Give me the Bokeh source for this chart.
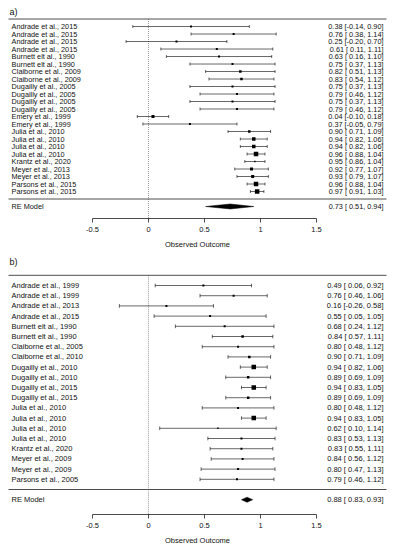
from bokeh.plotting import figure
from bokeh.layouts import column
from bokeh.models import FixedTicker, Range1d
from bokeh.embed import file_html
from bokeh.resources import INLINE
from bokeh.core.properties import value

FONT = "Liberation Sans"

# ---------------- panel a data ----------------
a_labels = ["Andrade et al., 2015", "Andrade et al., 2015", "Andrade et al., 2015", "Andrade et al., 2015",
            "Burnett elt al., 1990", "Burnett elt al., 1990",
            "Claiborne et al., 2009", "Claiborne et al., 2009",
            "Dugailly et al., 2005", "Dugailly et al., 2005", "Dugailly et al., 2005", "Dugailly et al., 2005",
            "Emery  et al., 1999", "Emery  et al., 1999",
            "Julia et al., 2010", "Julia et al., 2010", "Julia et al., 2010", "Julia et al., 2010",
            "Krantz et al., 2020", "Meyer et al., 2013", "Meyer et al., 2013",
            "Parsons et al., 2015", "Parsons et al., 2015"]
a_est = [0.38, 0.76, 0.25, 0.61, 0.63, 0.75, 0.82, 0.83, 0.75, 0.79, 0.75, 0.79,
         0.04, 0.37, 0.90, 0.94, 0.94, 0.96, 0.95, 0.92, 0.93, 0.96, 0.97]
a_lo = [-0.14, 0.38, -0.20, 0.11, 0.16, 0.37, 0.51, 0.54, 0.37, 0.46, 0.37, 0.46,
        -0.10, -0.05, 0.71, 0.82, 0.82, 0.88, 0.86, 0.77, 0.79, 0.88, 0.91]
a_hi = [0.90, 1.14, 0.70, 1.11, 1.10, 1.13, 1.13, 1.12, 1.13, 1.12, 1.13, 1.12,
        0.18, 0.79, 1.09, 1.06, 1.06, 1.04, 1.04, 1.07, 1.07, 1.04, 1.03]
a_size = [2, 2, 2, 2, 2, 2, 2.5, 2.5, 2, 2, 2, 2,
          3, 2, 2.5, 3.5, 3.5, 4.5, 1.5, 3, 3, 4.5, 4.5]
a_re = [0.73, 0.51, 0.94]

# ---------------- panel b data ----------------
b_labels = ["Andrade et al., 1999", "Andrade et al., 1999", "Andrade et al., 2013", "Andrade et al., 2015",
            "Burnett elt al., 1990", "Burnett elt al., 1990",
            "Claiborne et al., 2005", "Claiborne et al., 2010",
            "Dugailly et al., 2010", "Dugailly et al., 2010", "Dugailly et al., 2015", "Dugailly et al., 2015",
            "Julia et al., 2010", "Julia et al., 2010", "Julia et al., 2010", "Julia et al., 2010",
            "Krantz et al., 2020", "Meyer et al., 2009", "Meyer et al., 2009", "Parsons et al., 2005"]
b_est = [0.49, 0.76, 0.16, 0.55, 0.68, 0.84, 0.80, 0.90, 0.94, 0.89, 0.94, 0.89,
         0.80, 0.94, 0.62, 0.83, 0.83, 0.84, 0.80, 0.79]
b_lo = [0.06, 0.46, -0.26, 0.05, 0.24, 0.57, 0.48, 0.71, 0.82, 0.69, 0.83, 0.69,
        0.48, 0.83, 0.10, 0.53, 0.55, 0.56, 0.47, 0.46]
b_hi = [0.92, 1.06, 0.58, 1.05, 1.12, 1.11, 1.12, 1.09, 1.06, 1.09, 1.05, 1.09,
        1.12, 1.05, 1.14, 1.13, 1.11, 1.12, 1.13, 1.12]
b_size = [2, 2, 2, 2, 2, 2.5, 2, 2.5, 4.5, 2.5, 4.5, 2.5,
          2, 4.5, 1.5, 2, 2, 2, 2, 2]
b_re = [0.88, 0.83, 0.93]

tick_values = [-0.5, 0, 0.5, 1, 1.5]
tick_labels = ["-0.5", "0", "0.5", "1", "1.5"]
axis_title = "Observed Outcome"
summary_label = "RE Model"


def fmt(e, l, h):
    return f"{e:.2f} [{l:5.2f}, {h:.2f}]"


def panel(tag, labels, est, lo, hi, sizes, re, height, border_bottom,
          ybot, ytop, tag_y, cap, dh, font_size):
    k = len(labels)
    rows = list(range(k, 0, -1))
    xl, xr = -1.3214, 2.1964
    lab_x, val_x = -1.223, 2.098
    p = figure(width=394, height=height, x_range=Range1d(xl, xr), y_range=Range1d(ybot, ytop),
               output_backend="svg", toolbar_location=None, y_axis_location=None,
               min_border_left=0, min_border_right=0, min_border_top=0,
               min_border_bottom=border_bottom)
    p.grid.visible = False
    p.outline_line_color = None
    p.background_fill_color = None
    p.border_fill_color = None

    # horizontal separators
    p.segment(x0=[-1.25, -1.25], y0=[k + 1, 0], x1=[2.125, 2.125], y1=[k + 1, 0],
              line_color="black", line_width=0.7)
    # reference line
    p.segment(x0=[0], y0=[k + 1], x1=[0], y1=[ybot], line_color="#555555",
              line_width=0.6, line_dash="1 1")

    # CI lines and caps
    p.segment(x0=lo, y0=rows, x1=hi, y1=rows, line_color="black", line_width=0.6)
    p.segment(x0=lo, y0=[r - cap for r in rows], x1=lo, y1=[r + cap for r in rows],
              line_color="black", line_width=0.6)
    p.segment(x0=hi, y0=[r - cap for r in rows], x1=hi, y1=[r + cap for r in rows],
              line_color="black", line_width=0.6)
    p.scatter(x=est, y=rows, marker="square", size=sizes, fill_color="black", line_color=None)

    # summary diamond
    e, l, h = re
    p.patch(x=[l, e, h, e], y=[-1, -1 + dh, -1, -1 - dh], fill_color="black", line_color="black",
            line_width=0.5)

    # texts
    tc = "#111111"
    p.text(x=[lab_x] * k, y=rows, text=labels, text_align="left", text_baseline="middle",
           text_font=value(FONT), text_font_size=font_size, text_color=tc)
    p.text(x=[val_x] * k, y=rows, text=[fmt(a, b, c) for a, b, c in zip(est, lo, hi)],
           text_align="right", text_baseline="middle",
           text_font=value(FONT), text_font_size=font_size, text_color=tc)
    p.text(x=[lab_x], y=[-1], text=[summary_label], text_align="left", text_baseline="middle",
           text_font=value(FONT), text_font_size=font_size, text_color=tc)
    p.text(x=[val_x], y=[-1], text=[fmt(e, l, h)], text_align="right", text_baseline="middle",
           text_font=value(FONT), text_font_size=font_size, text_color=tc)
    p.text(x=[-1.24], y=[tag_y], text=[tag], text_align="left", text_baseline="middle",
           text_font=value(FONT), text_font_size="9px", text_color=tc)

    ax = p.xaxis[0]
    ax.bounds = (-0.5, 1.5)
    ax.ticker = FixedTicker(ticks=tick_values, minor_ticks=[])
    ax.major_label_overrides = {v: t for v, t in zip(tick_values, tick_labels)}
    ax.major_tick_out = 4
    ax.major_tick_in = 0
    ax.minor_tick_out = 0
    ax.minor_tick_in = 0
    ax.axis_line_color = "black"
    ax.axis_line_width = 0.7
    ax.major_tick_line_width = 0.7
    ax.major_label_standoff = 4
    ax.major_label_text_font = FONT
    ax.major_label_text_font_size = "7.5px"
    ax.major_label_text_color = tc
    ax.axis_label = axis_title
    ax.axis_label_standoff = 5
    ax.axis_label_text_font = FONT
    ax.axis_label_text_font_size = "7.5px"
    ax.axis_label_text_font_style = "normal"
    ax.axis_label_text_color = tc
    return p


pa = panel("a)", a_labels, a_est, a_lo, a_hi, a_size, a_re, height=254, border_bottom=36,
           ybot=-2.6, ytop=26.47, tag_y=24.9, cap=0.2, dh=0.33, font_size="7.3px")
pb = panel("b)", b_labels, b_est, b_lo, b_hi, b_size, b_re, height=294, border_bottom=34,
           ybot=-2.45, ytop=23.04, tag_y=22.3, cap=0.18, dh=0.25, font_size="7.5px")

layout = column(pa, pb, spacing=0)
open("out.html", "w").write(file_html(layout, INLINE))
